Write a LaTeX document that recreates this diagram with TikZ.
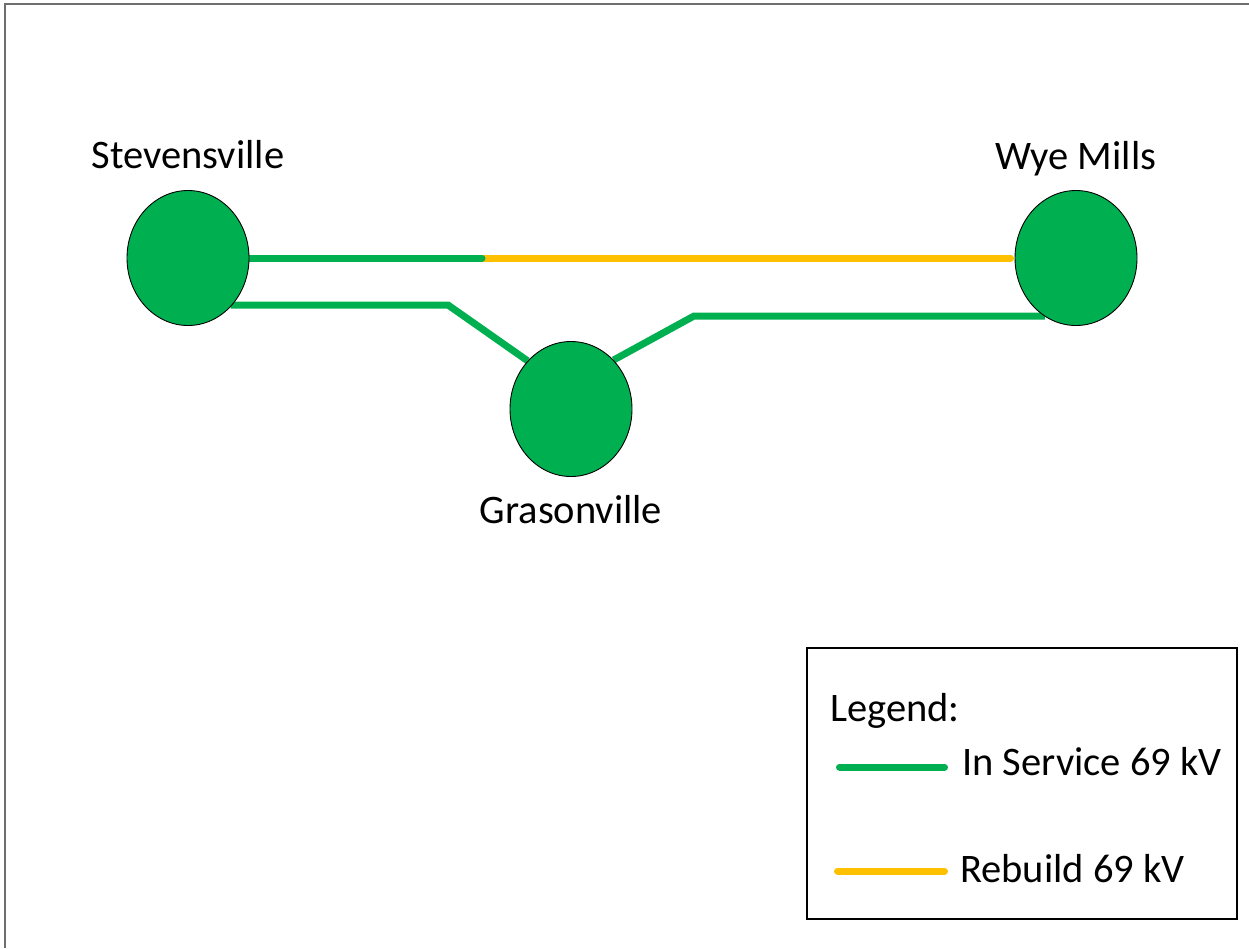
\documentclass[tikz,border=0pt]{standalone}
\usepackage{fontspec}
\setmainfont{Carlito}
\usetikzlibrary{shapes.geometric,backgrounds}

\definecolor{linegreen}{HTML}{00B050}
\definecolor{lineyellow}{HTML}{FFC000}
\definecolor{framegray}{HTML}{6E6E6E}

\tikzset{
  station/.style={ellipse, draw=black, line width=0.9pt, fill=linegreen,
    minimum width=122pt, minimum height=135pt, inner sep=0pt},
  stationname/.style={inner sep=0pt, font=\fontsize{40.5}{48}\selectfont},
  inservice/.style={draw=linegreen, line width=7pt},
  rebuild/.style={draw=lineyellow, line width=7pt},
  legendbox/.style={draw=black, line width=2.5pt}
}

\begin{document}
\begin{tikzpicture}[x=1pt,y=-1pt]
\useasboundingbox (0,0) rectangle (1249,948);

% Draw frame lines along top and left edge
\draw[framegray, line width=2pt] (4.5,948) -- (4.5,3.5) -- (1249,3.5);

% Draw the three substations
\node[station] (stev) at (188,258) {};
\node[station] (wye) at (1076,258) {};
\node[station] (gras) at (571,409) {};

% Label the substations
\node[stationname, anchor=base] (stevname) at (188,168) {Stevensville};
\node[stationname, anchor=base] (wyename) at (1076,169) {Wye Mills};
\node[stationname, anchor=base] (grasname) at (571,523) {Grasonville};

% Draw the 69 kV lines behind the substations
\begin{scope}[on background layer]
  \coordinate (split) at (482,258);
  \coordinate (bendA) at (448,305);
  \coordinate (bendB) at (694,316);
  \draw[rebuild, line cap=round, shorten >=4pt] (split) -- (wye.west);
  \draw[inservice, line cap=round] (stev.east) -- (split);
  \draw[inservice] (bendA -| stev.-49) -- (bendA) -- (gras.132);
  \draw[inservice] (gras.49) -- (bendB) -- (bendB -| wye.-118);
\end{scope}

% Draw legend box with entries
\draw[legendbox] (807,648) rectangle (1237,919);
\node[stationname, anchor=base west] (legtitle) at (830,721) {Legend:};
\node[stationname, anchor=base west] (legin) at (962,775) {In Service 69 kV};
\node[stationname, anchor=base west] (legreb) at (960,882) {Rebuild 69 kV};
\coordinate (ina) at (839.5,767);
\coordinate (inb) at (944.5,767);
\coordinate (reba) at (837.5,871);
\coordinate (rebb) at (944.5,871);
\draw[inservice, line cap=round] (ina) -- (inb);
\draw[rebuild, line cap=round] (reba) -- (rebb);
\end{tikzpicture}
\end{document}
